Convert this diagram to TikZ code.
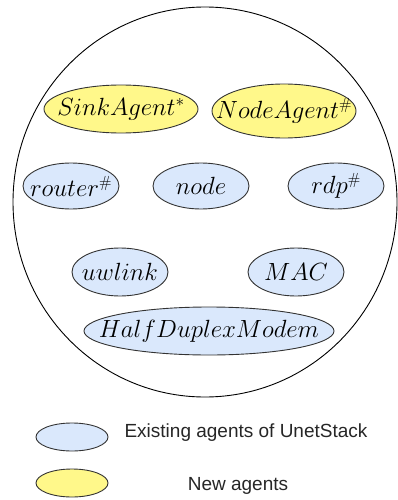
\documentclass[tikz,border=0pt]{standalone}
\usepackage{fontspec}
\usepackage{amsmath}
\usetikzlibrary{shapes.geometric}
\newfontfamily\legendfont{Liberation Sans}
\definecolor{agentblue}{HTML}{DAE8FC}
\definecolor{agentyellow}{HTML}{FFF88A}
\definecolor{edgegray}{HTML}{333333}
\begin{document}
\begin{tikzpicture}[x=1pt,y=-1pt,
  every label/.style={font=\fontsize{23}{28}\selectfont, inner sep=0pt},
  agent/.style={draw=edgegray, line width=0.9pt, ellipse, inner sep=0pt},
  oldagent/.style={agent, fill=agentblue},
  newagent/.style={agent, fill=agentyellow},
  legendtext/.style={font=\legendfont\fontsize{19}{23}\selectfont, text=black!85}]
\useasboundingbox (0,0) rectangle (398,500);
% enclosing stack
\node[draw, line width=0.9pt, ellipse, inner sep=0pt,
  minimum width=384pt, minimum height=390pt] (stack) at (205,202) {};
% new agents
\node[newagent, minimum width=154pt, minimum height=48pt,
  label={center:$SinkAgent^{*}$}] (sink) at (121,109) {};
\node[newagent, minimum width=144pt, minimum height=54pt,
  label={center:$NodeAgent^{\#}$}] (nodeag) at (284,111) {};
% existing agents
\node[oldagent, minimum width=96pt, minimum height=46pt,
  label={center:$router^{\#}$}] (router) at (71,186) {};
\node[oldagent, minimum width=96pt, minimum height=46pt,
  label={center:$node$}] (node) at (201,186) {};
\node[oldagent, minimum width=96pt, minimum height=46pt,
  label={center:$rdp^{\#}$}] (rdp) at (336,186) {};
\node[oldagent, minimum width=96pt, minimum height=48pt,
  label={center:$uwlink$}] (uwlink) at (120,272) {};
\node[oldagent, minimum width=96pt, minimum height=48pt,
  label={center:$MAC$}] (mac) at (296,272) {};
\node[oldagent, minimum width=250pt, minimum height=48pt,
  label={center:$HalfDuplexModem$}] (modem) at (209,331) {};
% legend
\node[oldagent, minimum width=72pt, minimum height=28pt] (keyold) at (72,437) {};
\node[legendtext] (legold) at (246,433) {Existing agents of UnetStack};
\node[newagent, minimum width=72pt, minimum height=28pt] (keynew) at (72,483) {};
\node[legendtext] (legnew) at (238,486) {New agents};
\end{tikzpicture}
\end{document}
